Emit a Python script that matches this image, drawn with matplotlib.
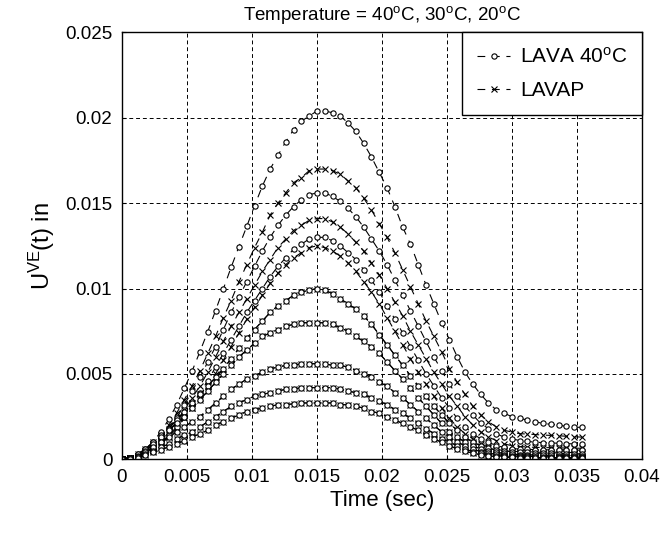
import numpy as np
import matplotlib
matplotlib.use("Agg")
import matplotlib.pyplot as plt
from matplotlib.ticker import FormatStrFormatter

plt.rcParams["font.family"] = ["Liberation Sans", "DejaVu Sans"]
plt.rcParams["mathtext.fontset"] = "custom"
plt.rcParams["mathtext.rm"] = "Liberation Sans"
plt.rcParams["mathtext.it"] = "Liberation Sans:italic"

# time samples (sec), every 0.0006 s
time = [0.0, 0.0006, 0.0012, 0.0018, 0.0024, 0.003, 0.0036, 0.0042, 0.0048, 0.0054,
        0.006, 0.0066, 0.0072, 0.0078, 0.0084, 0.009, 0.0096, 0.0102, 0.0108, 0.0114,
        0.012, 0.0126, 0.0132, 0.0138, 0.0144, 0.015, 0.0156, 0.0162, 0.0168, 0.0174,
        0.018, 0.0186, 0.0192, 0.0198, 0.0204, 0.021, 0.0216, 0.0222, 0.0228, 0.0234,
        0.024, 0.0246, 0.0252, 0.0258, 0.0264, 0.027, 0.0276, 0.0282, 0.0288, 0.0294,
        0.03, 0.0306, 0.0312, 0.0318, 0.0324, 0.033, 0.0336, 0.0342, 0.0348, 0.0354]

# LAVA (circles)
lava_a = [0, 0.0001, 0.0003, 0.0006, 0.00103, 0.00162, 0.00234, 0.00318, 0.00416, 0.00518,
          0.00631, 0.00748, 0.00871, 0.00998, 0.01125, 0.01246, 0.01364, 0.01485, 0.0160, 0.0170,
          0.0178, 0.0186, 0.0193, 0.0198, 0.0201, 0.0204, 0.0204, 0.0203, 0.0201, 0.0197,
          0.0192, 0.0185, 0.0177, 0.0168, 0.0159, 0.0148, 0.0136, 0.0126, 0.0114, 0.0102,
          0.0091, 0.0080, 0.0070, 0.0060, 0.0051, 0.0044, 0.0038, 0.0033, 0.0029, 0.0027,
          0.0025, 0.0024, 0.0023, 0.0022, 0.0021, 0.00205, 0.0020, 0.00193, 0.00188, 0.00187]
lava_c = [0, 0.0001, 0.0002, 0.0005, 0.0008, 0.0012, 0.0018, 0.0024, 0.0032, 0.0040,
          0.0048, 0.0057, 0.0066, 0.0076, 0.0086, 0.0095, 0.0104, 0.0113, 0.0122, 0.0130,
          0.0137, 0.0143, 0.0148, 0.0152, 0.0155, 0.0156, 0.0156, 0.0154, 0.0151, 0.0147,
          0.0142, 0.0136, 0.0129, 0.0122, 0.0114, 0.0105, 0.0096, 0.0087, 0.0078, 0.0069,
          0.0060, 0.0052, 0.0044, 0.0037, 0.0031, 0.0026, 0.0021, 0.0018, 0.0015, 0.0013,
          0.0012, 0.0011, 0.00105, 0.0010, 0.00098, 0.00096, 0.00094, 0.00092, 0.0009, 0.0009]
lava_e = [0, 0.0001, 0.0002, 0.0004, 0.0006, 0.0010, 0.0014, 0.0019, 0.0025, 0.0032,
          0.0039, 0.0046, 0.0054, 0.0062, 0.0070, 0.0078, 0.0086, 0.0093, 0.0100, 0.0107,
          0.0113, 0.0118, 0.0123, 0.0126, 0.0129, 0.0130, 0.0130, 0.0128, 0.0125, 0.0121,
          0.0117, 0.0111, 0.0105, 0.0098, 0.0090, 0.0082, 0.0074, 0.0066, 0.0058, 0.0050,
          0.0043, 0.0036, 0.0030, 0.0024, 0.0019, 0.0015, 0.0012, 0.0010, 0.0008, 0.0007,
          0.00063, 0.0006, 0.00058, 0.00057, 0.00056, 0.00055, 0.00055, 0.00054, 0.00054, 0.00053]

# LAVAP (crosses)
lavap_b = [0, 0.0001, 0.0002, 0.0005, 0.0009, 0.0014, 0.0020, 0.0027, 0.0035, 0.0043,
           0.0052, 0.0062, 0.0072, 0.0083, 0.0093, 0.0104, 0.0114, 0.0124, 0.0133, 0.0143,
           0.0150, 0.0156, 0.0162, 0.0165, 0.0169, 0.0170, 0.0170, 0.0169, 0.0167, 0.0163,
           0.0159, 0.0153, 0.0146, 0.0138, 0.0130, 0.0121, 0.0111, 0.0101, 0.0091, 0.0081,
           0.0072, 0.0063, 0.0053, 0.0045, 0.0038, 0.0031, 0.0026, 0.0022, 0.0019, 0.0017,
           0.0016, 0.0015, 0.00148, 0.00145, 0.00142, 0.0014, 0.00138, 0.00135, 0.00132, 0.0013]
lavap_d = [0, 0.0001, 0.0002, 0.0004, 0.0007, 0.0011, 0.0016, 0.0022, 0.0029, 0.0036,
           0.0043, 0.0051, 0.0060, 0.0069, 0.0078, 0.0086, 0.0094, 0.0102, 0.0110, 0.0117,
           0.0124, 0.0129, 0.0134, 0.0137, 0.0140, 0.0141, 0.0141, 0.0139, 0.0136, 0.0132,
           0.0127, 0.0122, 0.0115, 0.0108, 0.0100, 0.0092, 0.0084, 0.0075, 0.0067, 0.0059,
           0.0051, 0.0044, 0.0037, 0.0031, 0.0025, 0.0020, 0.0016, 0.0013, 0.0011, 0.0009,
           0.0008, 0.00075, 0.00072, 0.0007, 0.00069, 0.00068, 0.00067, 0.00066, 0.00065, 0.00065]
lavap_f = [0, 0.0001, 0.0002, 0.0004, 0.0006, 0.0009, 0.0013, 0.0018, 0.0024, 0.0030,
           0.0036, 0.0043, 0.0050, 0.0058, 0.0066, 0.0074, 0.0082, 0.0089, 0.0096, 0.0103,
           0.0109, 0.0114, 0.0118, 0.0121, 0.0124, 0.0125, 0.0124, 0.0122, 0.0119, 0.0115,
           0.0110, 0.0104, 0.0098, 0.0091, 0.0083, 0.0075, 0.0067, 0.0059, 0.0051, 0.0044,
           0.0037, 0.0030, 0.0024, 0.0019, 0.0015, 0.0012, 0.0009, 0.0007, 0.0006, 0.0005,
           0.00047, 0.00045, 0.00044, 0.00043, 0.00042, 0.00042, 0.00041, 0.0004, 0.0004, 0.0004]

# lower curves: LAVA and LAVAP nearly coincide
pair_g = [0, 0.0001, 0.0003, 0.0006, 0.0010, 0.0014, 0.0018, 0.0023, 0.0028, 0.0033,
          0.0038, 0.0043, 0.0048, 0.0053, 0.0059, 0.0065, 0.0071, 0.0076, 0.0081, 0.0086,
          0.0090, 0.0093, 0.0096, 0.0098, 0.0099, 0.0100, 0.0099, 0.0097, 0.0094, 0.0091,
          0.0088, 0.0084, 0.0079, 0.0073, 0.0067, 0.0061, 0.0055, 0.0049, 0.0043, 0.0037,
          0.0031, 0.0026, 0.0021, 0.0017, 0.0013, 0.0010, 0.0008, 0.00065, 0.00055, 0.0005,
          0.00045, 0.00042, 0.0004, 0.00038, 0.00036, 0.00035, 0.00034, 0.00033, 0.00032, 0.00031]
pair_h = [0, 0.0001, 0.0002, 0.0005, 0.0009, 0.0013, 0.0017, 0.0021, 0.0025, 0.0030,
          0.0035, 0.0040, 0.0045, 0.0050, 0.0055, 0.0060, 0.0064, 0.0068, 0.0072, 0.0074,
          0.0076, 0.0078, 0.0079, 0.0080, 0.0080, 0.0080, 0.0080, 0.0079, 0.0077, 0.0075,
          0.0072, 0.0069, 0.0066, 0.0062, 0.0057, 0.0052, 0.0047, 0.0042, 0.0036, 0.0031,
          0.0026, 0.0021, 0.0016, 0.0013, 0.0010, 0.0008, 0.0006, 0.0005, 0.0004, 0.00035,
          0.0003, 0.00028, 0.00026, 0.00025, 0.00024, 0.00023, 0.00022, 0.00022, 0.00021, 0.0002]
pair_i = [0, 0.00005, 0.00015, 0.0004, 0.0007, 0.0010, 0.0013, 0.0016, 0.0019, 0.0022,
          0.0025, 0.0029, 0.0033, 0.0037, 0.0041, 0.0044, 0.0047, 0.0049, 0.0051, 0.0053,
          0.0054, 0.0055, 0.0055, 0.0056, 0.0056, 0.0056, 0.0056, 0.0055, 0.0055, 0.0054,
          0.0052, 0.0050, 0.0048, 0.0045, 0.0043, 0.0039, 0.0036, 0.0032, 0.0028, 0.0024,
          0.0020, 0.0016, 0.0013, 0.0010, 0.0008, 0.0006, 0.00045, 0.00035, 0.0003, 0.00025,
          0.0002, 0.00018, 0.00017, 0.00016, 0.00015, 0.00014, 0.00014, 0.00013, 0.00013, 0.00012]
pair_j = [0, 0.00004, 0.00012, 0.0003, 0.0005, 0.0007, 0.0009, 0.0012, 0.0014, 0.0016,
          0.0019, 0.0022, 0.0025, 0.0028, 0.0031, 0.0033, 0.0035, 0.0037, 0.0038, 0.0039,
          0.0040, 0.0041, 0.0041, 0.0042, 0.0042, 0.0042, 0.0042, 0.0042, 0.0041, 0.0040,
          0.0039, 0.0038, 0.0036, 0.0034, 0.0032, 0.0029, 0.0027, 0.0024, 0.0021, 0.0018,
          0.0015, 0.0012, 0.0010, 0.0008, 0.0006, 0.00045, 0.00035, 0.00027, 0.00022, 0.00018,
          0.00015, 0.00013, 0.00012, 0.00011, 0.0001, 0.0001, 0.0001, 0.00009, 0.00009, 0.00009]
pair_k = [0, 0.00003, 0.0001, 0.00023, 0.0004, 0.00056, 0.00073, 0.0009, 0.0011, 0.0013,
          0.0015, 0.0017, 0.0020, 0.0022, 0.0024, 0.0026, 0.0028, 0.0029, 0.0030, 0.0031,
          0.0032, 0.0032, 0.00325, 0.0033, 0.0033, 0.0033, 0.0033, 0.0033, 0.0032, 0.0032,
          0.0031, 0.0030, 0.0028, 0.0027, 0.0025, 0.0023, 0.0021, 0.0019, 0.0017, 0.0014,
          0.0012, 0.0010, 0.0008, 0.0006, 0.00047, 0.00036, 0.00027, 0.0002, 0.00016, 0.00013,
          0.00011, 0.0001, 0.00009, 0.00008, 0.00008, 0.00007, 0.00007, 0.00007, 0.00006, 0.00006]

lava_curves = [lava_a, lava_c, lava_e, pair_g, pair_h, pair_i, pair_j, pair_k]
lavap_curves = [lavap_b, lavap_d, lavap_f, pair_g, pair_h, pair_i, pair_j, pair_k]


def main():
    fig = plt.figure(figsize=(6.63, 5.41), dpi=100)
    ax = fig.add_axes([0.184, 0.151, 0.784, 0.789])

    # broken lines between markers, like the original plot
    o_style = dict(color="black", lw=0.8, ls=(0, (7, 6)), marker="o", ms=3.8,
                   mfc="white", mec="black", mew=0.8)
    x_style = dict(color="black", lw=0.8, ls=(0, (7, 6)), marker="x", ms=4.5,
                   mec="black", mew=0.8)

    for i, y in enumerate(lavap_curves):
        ax.plot(time, y, **x_style, label="LAVAP" if i == 0 else None)
    for i, y in enumerate(lava_curves):
        ax.plot(time, y, **o_style, label="LAVA 40$^{\\rm o}$C" if i == 0 else None)

    ax.set_xlim(0, 0.04)
    ax.set_ylim(0, 0.025)
    ax.set_xticks([0, 0.005, 0.01, 0.015, 0.02, 0.025, 0.03, 0.035, 0.04])
    ax.set_yticks([0, 0.005, 0.01, 0.015, 0.02, 0.025])
    ax.xaxis.set_major_formatter(FormatStrFormatter("%g"))
    ax.yaxis.set_major_formatter(FormatStrFormatter("%g"))
    ax.tick_params(direction="in", length=3, labelsize=13.5, pad=7)
    ax.grid(True, color="black", linestyle=(0, (4, 3)), linewidth=0.7)
    for s in ax.spines.values():
        s.set_linewidth(1.0)

    ax.set_xlabel("Time (sec)", fontsize=16, labelpad=3)
    ax.set_ylabel("U$^{\\rm VE}$(t) in", fontsize=17, labelpad=6)
    ax.set_title("Temperature = 40$^{\\rm o}$C, 30$^{\\rm o}$C, 20$^{\\rm o}$C", fontsize=13.5, pad=9)

    handles, labels = ax.get_legend_handles_labels()
    leg = ax.legend(handles[::-1], labels[::-1], loc="upper right", fontsize=15,
                    frameon=True, fancybox=False, edgecolor="black", framealpha=1,
                    borderaxespad=0, handlelength=1.6, handletextpad=0.45,
                    labelspacing=0.68, borderpad=0.7)
    leg.get_frame().set_linewidth(1.0)

    fig.savefig("out.png", dpi=100)


if __name__ == "__main__":
    main()
